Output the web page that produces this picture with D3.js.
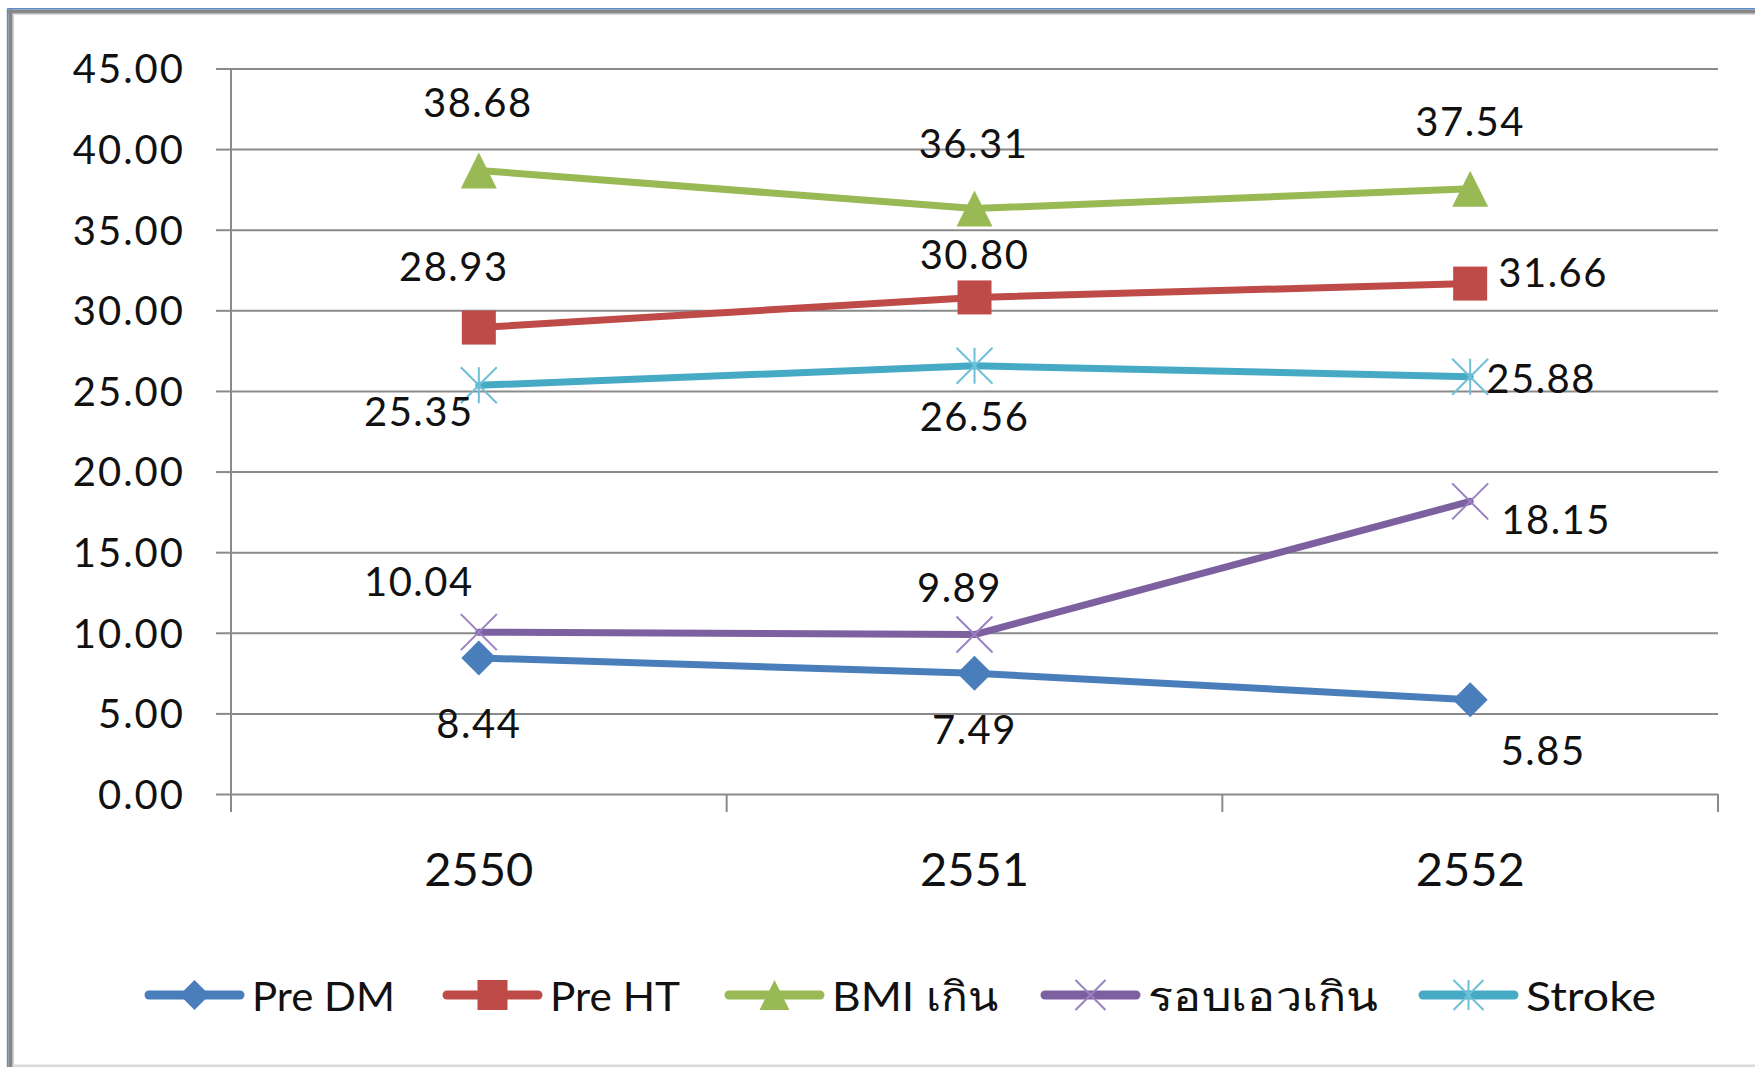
<!DOCTYPE html>
<html>
<head>
<meta charset="utf-8">
<script src="https://cdn.jsdelivr.net/npm/d3@7"></script>
<style>
  html, body { margin: 0; padding: 0; background: #ffffff; }
  svg { display: block; }
  text { font-family: Lato, "Open Sans", "Noto Sans", "DejaVu Sans", sans-serif; fill: #111; }
</style>
</head>
<body>
<svg id="chart" width="1755" height="1067"></svg>
<script>
// Years (Buddhist era) on the category axis
const years = ["2550", "2551", "2552"];

// Percentages per risk group
const preDM  = [8.44, 7.49, 5.85];
const preHT  = [28.93, 30.80, 31.66];
const bmi    = [38.68, 36.31, 37.54];
const waist  = [10.04, 9.89, 18.15];
const stroke = [25.35, 26.56, 25.88];

const seriesNames = ["Pre DM", "Pre HT", "BMI เกิน", "รอบเอวเกิน", "Stroke"];
const yTicks = [0, 5, 10, 15, 20, 25, 30, 35, 40, 45];

const seriesValues = [preDM, preHT, bmi, waist, stroke];
const seriesColors = ["#4A7EBB", "#BE4B48", "#98B954", "#7D60A0", "#46AAC5"];
const markerColors = ["#4A7EBB", "#BE4B48", "#98B954", "#9A82C2", "#6EC0D8"];
const markerTypes  = ["diamond", "square", "triangle", "x", "star"];

// Value-label offsets from each point (series x year), in pixels
const labelOffsets = [
  [[0, 65], [0, 56], [73, 50]],
  [[-25, -62], [0, -43], [83, -12]],
  [[-1, -68], [-1, -66], [0, -68]],
  [[-60, -51], [-15, -48], [86, 18]],
  [[-60, 26], [0, 50], [71, 1]]
];

// Legend layout: left edge of each entry and the width its label occupies
const legendX = [145, 443, 725, 1041, 1419];
const legendTextW = [143, 130, 166, 230, 130];

const svg = d3.select("#chart");
const W = 1755, H = 1067;

// frame
svg.append("line").attr("x1", 7.5).attr("x2", 7.5).attr("y1", 8.5).attr("y2", H)
  .attr("stroke", "#5B8DD8").attr("stroke-width", 1.5);
svg.append("line").attr("x1", 7.5).attr("x2", W).attr("y1", 8.8).attr("y2", 8.8)
  .attr("stroke", "#5B8DD8").attr("stroke-width", 1.5);
svg.append("rect").attr("x", 8.3).attr("y", 9.5).attr("width", 4.4).attr("height", H)
  .attr("fill", "#878787");
svg.append("rect").attr("x", 8.3).attr("y", 9.5).attr("width", W).attr("height", 4.2)
  .attr("fill", "#878787");
svg.append("rect").attr("x", 12.7).attr("y", 13.7).attr("width", 1.4).attr("height", H)
  .attr("fill", "#d6d6d6");
svg.append("rect").attr("x", 12.7).attr("y", 13.7).attr("width", W).attr("height", 1.2)
  .attr("fill", "#d6d6d6");
svg.append("rect").attr("x", 12.7).attr("y", 1064.5).attr("width", W).attr("height", 2.5)
  .attr("fill", "#dadada");

const plot = { left: 231, right: 1718, top: 68.5, bottom: 794 };

const x = d3.scaleBand().domain(years).range([plot.left, plot.right]).paddingInner(0).paddingOuter(0);
const y = d3.scaleLinear().domain([0, 45]).range([plot.bottom, plot.top]);
const cx = d => x(d) + x.bandwidth() / 2;

const gridColor = "#8a8a8a";

// horizontal gridlines + y axis
const yAxis = d3.axisLeft(y).tickValues(yTicks).tickSize(15).tickFormat(d => d.toFixed(2));
const gy = svg.append("g").attr("transform", `translate(${plot.left},0)`).call(yAxis);
gy.select(".domain").remove();
gy.selectAll(".tick line").attr("stroke", gridColor).attr("stroke-width", 2);
gy.selectAll(".tick").append("line")
  .attr("x1", 0).attr("x2", plot.right - plot.left)
  .attr("stroke", gridColor).attr("stroke-width", 2);
gy.selectAll(".tick text")
  .attr("x", -46).attr("dy", "0.36em")
  .style("font-size", "40px").style("fill", "#111").style("letter-spacing", "2px");

// vertical axis line
svg.append("line").attr("x1", plot.left).attr("x2", plot.left)
  .attr("y1", plot.top).attr("y2", plot.bottom + 18)
  .attr("stroke", gridColor).attr("stroke-width", 2);

// x axis: tick marks between categories
const xAxis = d3.axisBottom(x).tickSize(0).tickFormat(d => d);
const gx = svg.append("g").attr("transform", `translate(0,${plot.bottom})`).call(xAxis);
gx.select(".domain").remove();
gx.selectAll(".tick text").attr("y", 92).attr("dy", "0")
  .style("font-size", "47px").style("fill", "#111");
years.forEach((yr) => {
  const bx = x(yr) + x.bandwidth();
  svg.append("line").attr("x1", bx).attr("x2", bx)
    .attr("y1", plot.bottom).attr("y2", plot.bottom + 18)
    .attr("stroke", gridColor).attr("stroke-width", 2);
});

// marker drawing
function drawMarker(g, type, px, py, fill, s) {
  const h = s / 2;
  if (type === "diamond") {
    g.append("path").attr("d", `M${px},${py - h}L${px + h},${py}L${px},${py + h}L${px - h},${py}Z`)
      .attr("fill", fill);
  } else if (type === "square") {
    g.append("rect").attr("x", px - h).attr("y", py - h).attr("width", s).attr("height", s)
      .attr("fill", fill);
  } else if (type === "triangle") {
    g.append("path").attr("d", `M${px},${py - h}L${px + h},${py + h}L${px - h},${py + h}Z`)
      .attr("fill", fill);
  } else if (type === "x") {
    g.append("path").attr("d", `M${px - h},${py - h}L${px + h},${py + h}M${px + h},${py - h}L${px - h},${py + h}`)
      .attr("stroke", fill).attr("stroke-width", 2).attr("fill", "none");
  } else if (type === "star") {
    g.append("path").attr("d", `M${px},${py - h}L${px},${py + h}M${px - h},${py - h}L${px + h},${py + h}M${px + h},${py - h}L${px - h},${py + h}`)
      .attr("stroke", fill).attr("stroke-width", 2).attr("fill", "none");
  }
}

const markerSize = [35, 34, 36, 36, 36];

// lines
const line = d3.line().x((d, i) => cx(years[i])).y(d => y(d));
seriesValues.forEach((vals, si) => {
  svg.append("path").datum(vals).attr("d", line)
    .attr("fill", "none").attr("stroke", seriesColors[si])
    .attr("stroke-width", 7).attr("stroke-linejoin", "round").attr("stroke-linecap", "round");
});

// markers
seriesValues.forEach((vals, si) => {
  const g = svg.append("g");
  vals.forEach((v, i) => drawMarker(g, markerTypes[si], cx(years[i]), y(v), markerColors[si], markerSize[si]));
});

// value labels
seriesValues.forEach((vals, si) => {
  vals.forEach((v, i) => {
    const [dx, dy] = labelOffsets[si][i];
    svg.append("text")
      .attr("x", cx(years[i]) + dx).attr("y", y(v) + dy)
      .attr("text-anchor", "middle").attr("dominant-baseline", "central")
      .style("font-size", "40px").style("letter-spacing", "1.5px")
      .text(v.toFixed(2));
  });
});

// legend
const legendY = 995;
seriesNames.forEach((name, si) => {
  const lx = legendX[si];
  const g = svg.append("g");
  g.append("line").attr("x1", lx + 4).attr("x2", lx + 95).attr("y1", legendY).attr("y2", legendY)
    .attr("stroke", seriesColors[si]).attr("stroke-width", 9).attr("stroke-linecap", "round");
  drawMarker(g, markerTypes[si], lx + 49.5, legendY, markerColors[si], 30);
  g.append("text").attr("x", lx + 107).attr("y", legendY)
    .attr("dominant-baseline", "central")
    .attr("textLength", legendTextW[si]).attr("lengthAdjust", "spacingAndGlyphs")
    .style("font-size", "41px")
    .text(name);
});
</script>
</body>
</html>
